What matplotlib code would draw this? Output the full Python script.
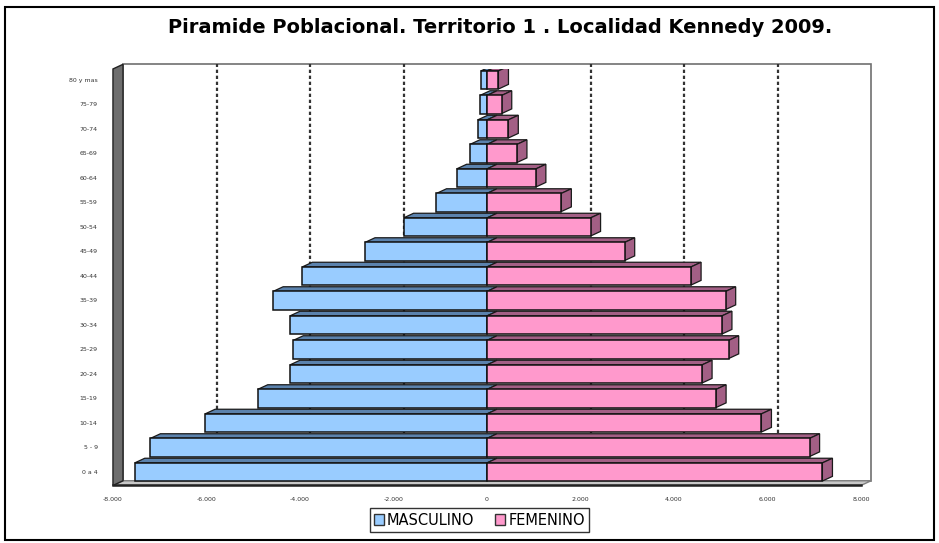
import numpy as np
import matplotlib.pyplot as plt
from matplotlib.patches import Polygon, Rectangle, Patch

# grupos de edad, de abajo hacia arriba
grupos = ['0 a 4', '5 - 9', '10-14', '15-19', '20-24', '25-29', '30-34', '35-39',
          '40-44', '45-49', '50-54', '55-59', '60-64', '65-69', '70-74', '75-79', '80 y mas']
masculino = [7535, 7200, 6030, 4905, 4215, 4145, 4215, 4575, 3950, 2610, 1785, 1080, 650, 365, 200, 150, 130]
femenino = [7175, 6900, 5870, 4900, 4600, 5170, 5025, 5105, 4365, 2945, 2215, 1590, 1045, 640, 455, 315, 245]
ticks_x = [-8000, -6000, -4000, -2000, 0, 2000, 4000, 6000, 8000]
ticks_txt = ['-8.000', '-6.000', '-4.000', '-2.000', '0', '2.000', '4.000', '6.000', '8.000']

azul, azul_osc = '#99ccff', '#5b82ad'
rosa, rosa_osc = '#ff99cc', '#a35f85'

DX, DY = 215, 0.19   # profundidad del efecto 3D (en unidades de datos)
Y0, Y1 = -0.55, 16.45
H = 0.74

fig = plt.figure(figsize=(9.39, 5.43), dpi=100)
ax = fig.add_axes([0.1203, 0.106, 0.7966, 0.767])
ax.set_xlim(-8000, 8000)
ax.set_ylim(Y0, Y1)
for s in ax.spines.values():
    s.set_visible(False)

# pared del fondo
ax.add_patch(Rectangle((-8000 + DX, Y0 + DY), 16000, Y1 - Y0, facecolor='white',
                       edgecolor='#707070', lw=1.2, zorder=0, clip_on=False))
# lineas de division
for x in ticks_x[1:-1]:
    if x == 0:
        continue
    ax.plot([x + DX, x + DX], [Y0 + DY, Y1 + DY], color='#333333', lw=1.6,
            ls=(0, (1.5, 1.2)), zorder=1, clip_on=False)

# piso
ax.add_patch(Polygon([(-8000, Y0), (8000, Y0), (8000 + DX, Y0 + DY), (-8000 + DX, Y0 + DY)],
                     closed=True, facecolor='#c8c8c8', edgecolor='#808080', lw=1, zorder=1, clip_on=False))
ax.plot([-8000, 8000], [Y0, Y0], color='#222222', lw=1.8, zorder=2, clip_on=False)
# pared izquierda
ax.add_patch(Polygon([(-8000, Y0), (-8000, Y1), (-8000 + DX, Y1 + DY), (-8000 + DX, Y0 + DY)],
                     closed=True, facecolor='#6e6e6e', edgecolor='#222222', lw=1, zorder=2, clip_on=False))

y = np.arange(len(grupos))
m = -np.array(masculino)
f = np.array(femenino)

for i in range(len(grupos) - 1, -1, -1):
    top = y[i] + H / 2
    # caras superiores
    ax.add_patch(Polygon([(m[i], top), (0, top), (DX, top + DY), (m[i] + DX, top + DY)],
                         closed=True, facecolor=azul_osc, edgecolor='#1a1a1a', lw=0.9, zorder=3))
    ax.add_patch(Polygon([(0, top), (f[i], top), (f[i] + DX, top + DY), (DX, top + DY)],
                         closed=True, facecolor=rosa_osc, edgecolor='#1a1a1a', lw=0.9, zorder=3))
    # cara lateral
    bot = y[i] - H / 2
    ax.add_patch(Polygon([(f[i], bot), (f[i], top), (f[i] + DX, top + DY), (f[i] + DX, bot + DY)],
                         closed=True, facecolor=rosa_osc, edgecolor='#1a1a1a', lw=0.9, zorder=3))

ax.barh(y, m, height=H, color=azul, edgecolor='#111111', lw=1.1, zorder=4)
ax.barh(y, f, height=H, color=rosa, edgecolor='#111111', lw=1.1, zorder=4)

ax.set_xticks(ticks_x)
ax.set_xticklabels(ticks_txt, fontsize=4.5, color='#333333')
ax.set_yticks(y)
ax.set_yticklabels(grupos, fontsize=4.5, color='#333333')
ax.tick_params(axis='x', length=0, pad=8)
ax.tick_params(axis='y', length=0, pad=11)

fig.text(0.533, 0.95, 'Piramide Poblacional. Territorio 1 . Localidad Kennedy 2009.',
         ha='center', va='center', fontsize=14, fontweight='bold')

handles = [Patch(facecolor=azul, edgecolor='#333333', label='MASCULINO'),
           Patch(facecolor=rosa, edgecolor='#333333', label='FEMENINO')]
leg = fig.legend(handles=handles, loc='center', bbox_to_anchor=(0.5105, 0.042), ncol=2,
                 fontsize=10.5, frameon=True, fancybox=False, edgecolor='black',
                 handlelength=0.7, handleheight=0.7, handletextpad=0.2, columnspacing=1.4,
                 borderpad=0.3)
leg.get_frame().set_linewidth(1.0)

fig.patches.append(Rectangle((0.005, 0.006), 0.99, 0.982, transform=fig.transFigure,
                             fill=False, edgecolor='black', lw=1.5))

fig.savefig('out.png', dpi=100)
